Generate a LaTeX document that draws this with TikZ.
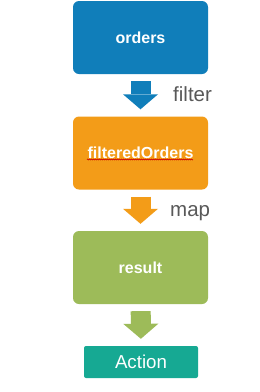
\documentclass[tikz,border=0pt]{standalone}
\usepackage{fontspec}
\setmainfont{Liberation Sans}
\usepackage{xcolor}
\usetikzlibrary{arrows.meta, decorations.pathmorphing}
\definecolor{ordersblue}{RGB}{16,126,186}
\definecolor{filterorange}{RGB}{243,156,24}
\definecolor{resultgreen}{RGB}{157,187,89}
\definecolor{actionteal}{RGB}{22,169,147}
\definecolor{labelgray}{RGB}{89,89,89}
\tikzset{
  stagebox/.style={
    rounded corners=6pt, inner sep=0pt, align=center,
    minimum width=135pt, minimum height=73pt,
    text=white, font=\fontsize{16}{19}\selectfont\bfseries
  },
  actionbox/.style={
    rounded corners=2pt, inner sep=0pt, fill=actionteal,
    minimum width=114pt, minimum height=32pt,
    text=white, font=\fontsize{18.7}{22}\selectfont
  },
  flowarrow/.style={
    line width=20pt, shorten <=7pt, shorten >=7pt,
    -{Triangle[width=35pt, length=15pt, line width=0pt]}
  },
  oplabel/.style={
    anchor=base west, inner sep=0pt, text=labelgray,
    font=\fontsize{20.5}{24}\selectfont
  },
}

\begin{document}
\begin{tikzpicture}[x=1pt, y=-1pt]
  \fill[white] (0,0) rectangle (260,392);
  \useasboundingbox (0,0) rectangle (260,392);

  % Stages
  \node[stagebox, fill=ordersblue] (orders) at (140.5, 37.5) {orders};
  \node[stagebox, fill=filterorange] (filtered) at (140.5, 153) {filteredOrders};
  \node[stagebox, fill=resultgreen] (result) at (140.5, 267.5) {result};
  \node[actionbox] (action) at (141, 362) {Action};

  % Spell-check squiggle
  \coordinate (sqa) at (87, 159.5);
  \coordinate (sqb) at (193, 159.5);
  \draw[red!80!black, line width=0.4pt, decorate,
    decoration={zigzag, amplitude=0.5pt, segment length=2pt}] (sqa) -- (sqb);

  % Operations
  \draw[flowarrow, ordersblue] (orders) -- (filtered);
  \draw[flowarrow, filterorange] (filtered) -- (result);
  \draw[flowarrow, resultgreen] (result) -- (action);

  \node[oplabel] (filterlbl) at (173, 101) {filter};
  \node[oplabel] (maplbl) at (170, 216) {map};
\end{tikzpicture}
\end{document}
